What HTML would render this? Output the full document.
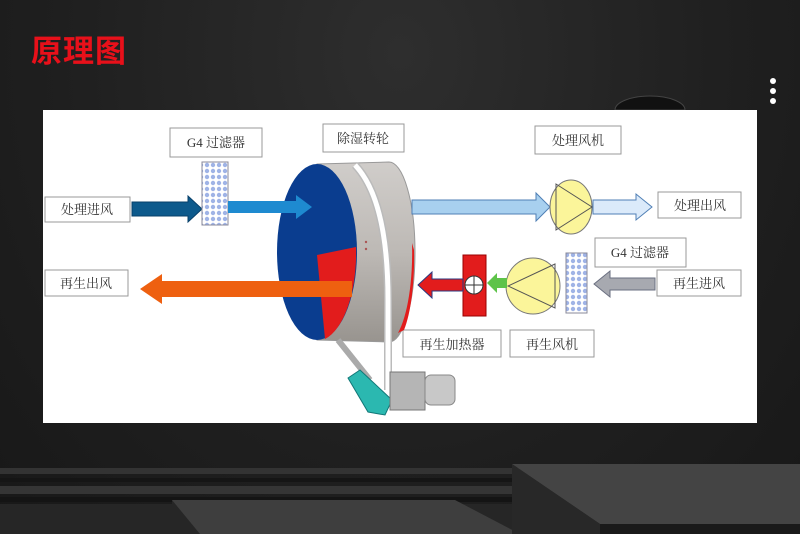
<!DOCTYPE html>
<html><head><meta charset="utf-8"><style>
html,body{margin:0;padding:0;}
body{width:800px;height:534px;overflow:hidden;background:#1d1d1d;position:relative;font-family:"Liberation Serif","Noto Serif CJK SC",serif;}
.bg{position:absolute;inset:0;background:radial-gradient(ellipse at 50% 10%,#2e2e2e 0%,#1f1f1f 60%,#181818 100%);}
.title{position:absolute;left:31px;top:26px;font:bold 31px "Liberation Sans","Noto Sans CJK SC",sans-serif;color:#e8101a;letter-spacing:1px;}
.dot{position:absolute;left:770px;width:6px;height:6px;border-radius:3px;background:#fff;}
.panel{position:absolute;left:43px;top:110px;width:714px;height:313px;background:#fff;}
</style></head><body>
<div class="bg"></div>
<svg style="position:absolute;left:0;top:0" width="800" height="534">
<path d="M615 110 A35 14 0 0 1 685 110 Z" fill="#111" stroke="#444"/>
<rect x="0" y="468" width="520" height="6" fill="#333"/>
<rect x="0" y="478" width="520" height="4" fill="#151515"/>
<rect x="0" y="486" width="520" height="8" fill="#353535"/>
<rect x="0" y="497" width="520" height="5" fill="#141414"/>
<rect x="0" y="504" width="520" height="30" fill="#262626"/>
<polygon points="172,500 455,500 520,534 172,534" fill="#3e3e3e"/>
<polygon points="172,500 200,534 172,534" fill="#262626"/>
<polygon points="512,464 800,464 800,524 600,524" fill="#444"/>
<polygon points="512,464 600,524 600,534 512,534" fill="#282828"/>
<rect x="600" y="524" width="200" height="10" fill="#1a1a1a"/>
</svg>
<div class="title">原理图</div>
<div class="dot" style="top:78px"></div>
<div class="dot" style="top:88px"></div>
<div class="dot" style="top:98px"></div>
<div class="panel"></div>
<svg style="position:absolute;left:0;top:0" width="800" height="534" font-family="Liberation Serif, Noto Serif CJK SC, serif" font-size="13" fill="#333">
<defs>
<pattern id="chk" width="6" height="6" patternUnits="userSpaceOnUse"><rect width="6" height="6" fill="#fff"/><circle cx="3" cy="3" r="2.2" fill="#9fb3e6"/></pattern>
<linearGradient id="cyl" x1="0" y1="0" x2="0" y2="1"><stop offset="0" stop-color="#d0cdca"/><stop offset="0.5" stop-color="#bdb9b5"/><stop offset="1" stop-color="#98948f"/></linearGradient>
</defs>
<g stroke="#999" fill="#fff">
<rect x="45" y="197" width="85" height="25"/>
<rect x="170" y="128" width="92" height="29"/>
<rect x="323" y="124" width="81" height="28"/>
<rect x="45" y="270" width="83" height="26"/>
<rect x="535" y="126" width="86" height="28"/>
<rect x="658" y="192" width="83" height="26"/>
<rect x="595" y="238" width="91" height="29"/>
<rect x="657" y="270" width="84" height="26"/>
<rect x="403" y="330" width="98" height="27"/>
<rect x="510" y="330" width="84" height="27"/>
</g>
<g text-anchor="middle">
<text x="87" y="214">处理进风</text>
<text x="216" y="147">G4 过滤器</text>
<text x="363" y="143">除湿转轮</text>
<text x="86" y="288">再生出风</text>
<text x="578" y="145">处理风机</text>
<text x="700" y="210">处理出风</text>
<text x="640" y="257">G4 过滤器</text>
<text x="699" y="288">再生进风</text>
<text x="452" y="349">再生加热器</text>
<text x="552" y="349">再生风机</text>
</g>
<polygon points="132,202 188,202 188,196 202,209 188,222 188,216 132,216" fill="#0d5a8c" stroke="#08406a"/>
<rect x="202" y="162" width="26" height="63" fill="url(#chk)" stroke="#889"/>
<!-- wheel -->
<path d="M317 164 L389 162 A26 90 0 0 1 389 342 L317 340 Z" fill="url(#cyl)" stroke="#999"/>
<path d="M412 243 A26 90 0 0 1 398 333 L404 330 A22 85 0 0 0 414 250 Z" fill="#e21c1c"/>
<ellipse cx="317" cy="252" rx="40" ry="88" fill="#0a3d8f"/>
<path d="M317 255 L356 247 A40 88 0 0 1 325 339 Z" fill="#e21c1c"/>
<path d="M355 165 Q388 200 388 300 L388 390" fill="none" stroke="#bbb" stroke-width="8"/>
<path d="M355 165 Q388 200 388 300 L388 390" fill="none" stroke="#fff" stroke-width="5"/>
<circle cx="366" cy="242" r="1.2" fill="#a55"/><circle cx="366" cy="249" r="1.2" fill="#a55"/>
<polygon points="228,201 296,201 296,195 312,207 296,219 296,213 228,213" fill="#1e8ad0"/>
<polygon points="352,281 162,281 162,274 140,289 162,304 162,297 352,297" fill="#ee6010"/>
<!-- drive -->
<line x1="338" y1="340" x2="370" y2="380" stroke="#aaa" stroke-width="6"/>
<polygon points="348,378 360,370 392,400 385,415 368,412" fill="#2bb8b0" stroke="#177"/>
<rect x="390" y="372" width="35" height="38" fill="#b5b5b5" stroke="#777"/>
<rect x="425" y="375" width="30" height="30" rx="6" fill="#c8c8c8" stroke="#888"/>
<!-- right top -->
<polygon points="412,200 536,200 536,193 550,207 536,221 536,214 412,214" fill="#a8d0ef" stroke="#4f7fb5"/>
<ellipse cx="571" cy="207" rx="21" ry="27" fill="#fbf59a" stroke="#777"/>
<polygon points="556,184 592,207 556,230" fill="none" stroke="#555"/>
<polygon points="593,200 636,200 636,194 652,207 636,220 636,214 593,214" fill="#dbeafa" stroke="#4f7fb5"/>
<!-- regen -->
<polygon points="655,278 610,278 610,271 594,284 610,297 610,290 655,290" fill="#a7a9b0" stroke="#6a6f80"/>
<rect x="566" y="253" width="21" height="60" fill="url(#chk)" stroke="#889"/>
<ellipse cx="533" cy="286" rx="27" ry="28" fill="#fbf59a" stroke="#777"/>
<polygon points="555,264 508,286 555,308" fill="none" stroke="#555"/>
<polygon points="507,278 497,278 497,273 487,283 497,293 497,288 507,288" fill="#5ec34a"/>
<rect x="463" y="255" width="23" height="61" fill="#e21c1c" stroke="#900"/>
<circle cx="474" cy="285" r="9" fill="#fff" stroke="#333"/>
<line x1="465" y1="285" x2="483" y2="285" stroke="#333"/><line x1="474" y1="276" x2="474" y2="294" stroke="#333"/>
<polygon points="463,279 432,279 432,272 418,285 432,298 432,291 463,291" fill="#e21c1c" stroke="#2a3a80"/>
</svg>
</body></html>
